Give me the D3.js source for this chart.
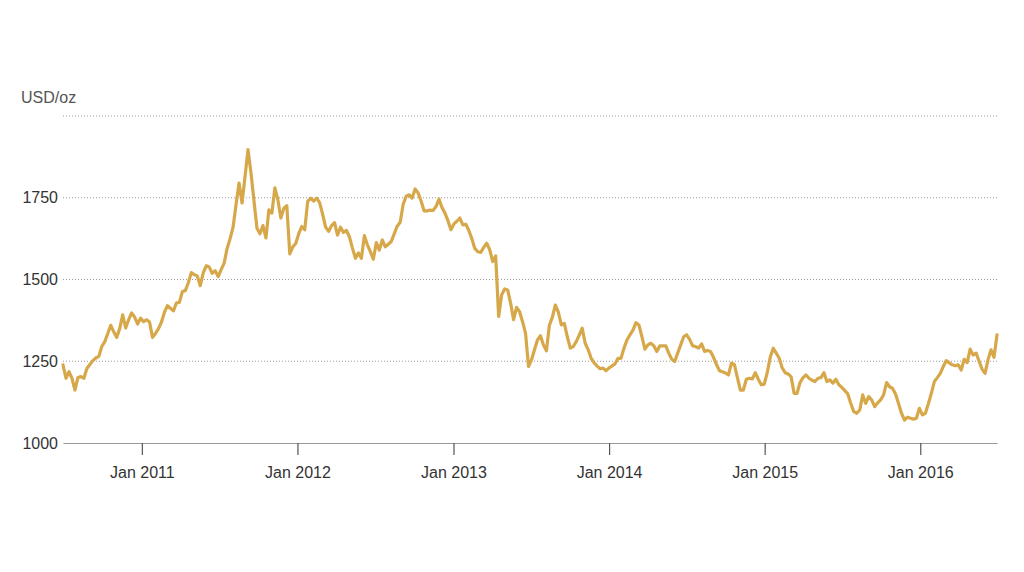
<!DOCTYPE html>
<html>
<head>
<meta charset="utf-8">
<script src="https://cdn.jsdelivr.net/npm/d3@7"></script>
<style>
  html, body { margin: 0; padding: 0; background: #fff; }
  svg { display: block; font-family: "Liberation Sans", Arial, Helvetica, sans-serif; }
</style>
</head>
<body>
<svg id="chart" width="1024" height="572"></svg>
<script>
// Weekly gold price (USD/oz), Wednesdays, 30 Jun 2010 – 29 Jun 2016
const startDate = "2010-06-30";
const prices2010 = [1239,1198,1218,1198,1162,1200,1203,1198,1228,1240,1252,1260,1265,1295,1310,1335,1360,1340,1323,1350,1392,1352,1377,1398,1385,1364,1382];
const prices2011 = [1371,1377,1370,1323,1335,1350,1370,1400,1420,1412,1404,1428,1430,1463,1466,1490,1521,1515,1511,1481,1520,1542,1538,1519,1527,1509,1530,1550,1595,1625,1660,1730,1795,1734,1815,1897,1826,1740,1657,1640,1665,1627,1713,1703,1780,1744,1688,1718,1726,1578,1600,1610];
const prices2012 = [1640,1662,1652,1739,1749,1740,1749,1735,1700,1660,1647,1665,1674,1636,1660,1644,1650,1630,1596,1565,1581,1565,1634,1606,1585,1562,1613,1590,1621,1600,1608,1616,1640,1663,1675,1730,1755,1759,1749,1777,1765,1740,1710,1710,1712,1711,1723,1746,1720,1703,1680,1652];
const prices2013 = [1670,1678,1688,1667,1669,1650,1625,1595,1585,1583,1598,1611,1591,1555,1572,1387,1453,1471,1468,1428,1377,1415,1402,1371,1336,1234,1254,1285,1315,1328,1300,1282,1360,1385,1422,1400,1361,1366,1325,1290,1295,1310,1330,1351,1305,1285,1259,1245,1235,1227,1229,1221];
const prices2014 = [1230,1236,1242,1259,1259,1290,1315,1331,1345,1368,1361,1325,1287,1300,1305,1297,1280,1297,1297,1297,1275,1256,1249,1275,1300,1325,1331,1317,1297,1295,1290,1303,1280,1283,1280,1262,1240,1221,1218,1214,1208,1244,1240,1200,1162,1162,1195,1198,1196,1215,1195,1178,1180];
const prices2015 = [1215,1262,1290,1275,1260,1230,1215,1211,1203,1152,1152,1185,1200,1208,1198,1192,1188,1198,1200,1215,1188,1193,1183,1195,1178,1170,1160,1150,1121,1096,1091,1101,1147,1121,1142,1132,1111,1123,1132,1147,1185,1172,1167,1150,1121,1091,1070,1079,1076,1073,1076,1106];
const prices2016 = [1086,1091,1120,1152,1188,1200,1213,1234,1252,1245,1239,1236,1239,1223,1256,1246,1287,1269,1275,1250,1226,1213,1255,1285,1262,1331];

const yTicks = [1000, 1250, 1500, 1750, 2000];
const yLabels = ["1000", "1250", "1500", "1750"];
const xTickYears = [2011, 2012, 2013, 2014, 2015, 2016];
const unitLabel = "USD/oz";

(function () {
  const allPrices = [].concat(prices2010, prices2011, prices2012, prices2013, prices2014, prices2015, prices2016);
  const t0 = d3.timeParse("%Y-%m-%d")(startDate);
  const data = allPrices.map((v, i) => ({ date: d3.timeWeek.offset(t0, i), value: v }));

  const svg = d3.select("#chart");
  const mLeft = 63, mRight = 997, mTop = 116, mBottom = 443;
  const fontSize = 16;

  const x = d3.scaleTime()
    .domain(d3.extent(data, d => d.date))
    .range([mLeft, mRight]);
  const y = d3.scaleLinear().domain([1000, 2000]).range([mBottom, mTop]);

  // gridlines (dotted)
  svg.append("g").selectAll("line")
    .data(yTicks.filter(t => t > 1000))
    .join("line")
    .attr("x1", mLeft).attr("x2", mRight)
    .attr("y1", d => y(d)).attr("y2", d => y(d))
    .attr("stroke", "#9a9a9a")
    .attr("stroke-width", 1)
    .attr("stroke-dasharray", "1,2");

  // y labels
  svg.append("g").selectAll("text")
    .data(yLabels)
    .join("text")
    .attr("x", 58)
    .attr("y", d => y(+d))
    .attr("dy", "0.35em")
    .attr("text-anchor", "end")
    .attr("font-size", fontSize)
    .attr("fill", "#333")
    .text(d => d);

  // unit label
  svg.append("text")
    .attr("x", 21).attr("y", 103)
    .attr("font-size", fontSize)
    .attr("fill", "#555")
    .text(unitLabel);

  // x axis
  const xAxis = d3.axisBottom(x)
    .tickValues(xTickYears.map(yr => new Date(yr, 0, 1)))
    .tickFormat(d3.timeFormat("Jan %Y"))
    .tickSizeInner(12)
    .tickSizeOuter(0);

  const gx = svg.append("g")
    .attr("transform", `translate(0,${mBottom})`)
    .call(xAxis);
  gx.select(".domain").attr("stroke", "#999").attr("stroke-width", 1.2);
  gx.selectAll(".tick line").attr("stroke", "#555").attr("stroke-width", 1.2);
  gx.selectAll(".tick text")
    .attr("font-size", fontSize)
    .attr("font-family", "'Liberation Sans', Arial, sans-serif")
    .attr("fill", "#333")
    .attr("dy", "1.25em");

  // line
  const line = d3.line()
    .x(d => x(d.date))
    .y(d => y(d.value))
    .curve(d3.curveLinear);

  svg.append("path")
    .datum(data)
    .attr("fill", "none")
    .attr("stroke", "#d6a84a")
    .attr("stroke-width", 3.2)
    .attr("stroke-linejoin", "round")
    .attr("stroke-linecap", "round")
    .attr("d", line);
})();
</script>
</body>
</html>
